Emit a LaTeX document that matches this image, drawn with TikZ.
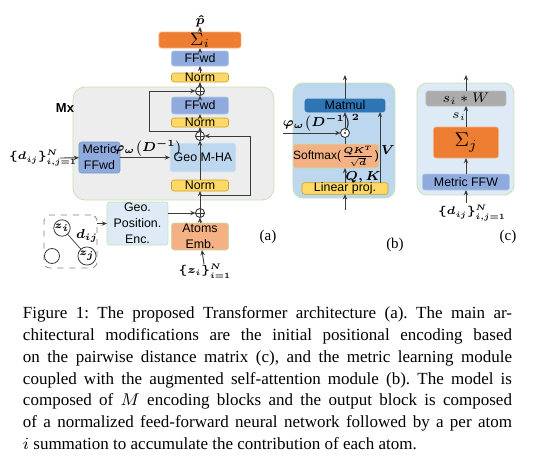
\RequirePackage{fix-cm}
\documentclass[tikz,border=0pt]{standalone}
\usepackage{amssymb}
\usepackage{amsmath}
\usepackage{fontspec}
\setmainfont{Liberation Serif}
\setsansfont{Liberation Sans}
\usepackage{tikz}
\usepackage{xcolor}
\usetikzlibrary{arrows.meta,positioning}
\DeclareMathSizes{5.5}{5.5}{4}{3}
\DeclareMathSizes{6}{6}{4.3}{3.2}
\DeclareMathSizes{6.5}{6.5}{4.7}{3.5}

\definecolor{wirec}{HTML}{3A3A3A}
\definecolor{orng}{HTML}{ED7D31}
\definecolor{orngL}{HTML}{F4B183}
\definecolor{blueM}{HTML}{8FAADC}
\definecolor{blueB}{HTML}{B4C7E7}
\definecolor{blueD}{HTML}{2E75B6}
\definecolor{yel}{HTML}{FFD966}
\definecolor{yelB}{HTML}{C9A227}
\definecolor{lblue}{HTML}{BDD7EE}
\definecolor{vlblue}{HTML}{DEEBF7}
\definecolor{mxg}{HTML}{EDEDED}
\definecolor{grnB}{HTML}{C5E0B4}
\definecolor{gryW}{HTML}{ABABAB}

\begin{document}
\frenchspacing
\begin{tikzpicture}
  [x=0.5pt,y=-0.5pt,
   every node/.style={inner sep=0pt,outer sep=0pt},
   >={Stealth[length=2.6pt,width=2.2pt]},
   wire/.style={draw=wirec,line width=0.45pt},
   box/.style 2 args={draw,line width=0.3pt,rounded corners=1.2pt,align=center,
     minimum width=#1*0.5pt,minimum height=#2*0.5pt,
     font=\sffamily\fontsize{6.2}{8}\selectfont},
   cblue/.style={fill=blueM,draw=blueB},
   cyel/.style={fill=yel,draw=yelB},
   corng/.style={fill=orng,draw=orngL},
   corngL/.style={fill=orngL,draw=grnB},
   mlbl/.style={font=\fontsize{6.5}{7}\selectfont},
   slbl/.style={font=\fontsize{5.5}{6}\selectfont},
   tag/.style={font=\rmfamily\fontsize{7.5}{8}\selectfont},
   plus/.style={circle,draw=wirec,line width=0.45pt,fill=white,minimum size=4.5pt,
     path picture={\draw[wirec,line width=0.4pt]
       (path picture bounding box.north) -- (path picture bounding box.south)
       (path picture bounding box.west) -- (path picture bounding box.east);}},
   odot/.style={circle,draw=wirec,line width=0.45pt,fill=white,minimum size=4.5pt,
     path picture={\fill[wirec] (path picture bounding box.center) circle (0.55pt);}},
   atom/.style={circle,draw=wirec,line width=0.4pt,minimum size=6pt,
     font=\fontsize{5}{6}\selectfont}]
  \useasboundingbox (0,0) rectangle (543,461);

  % (a) encoder
  \draw[draw=grnB,fill=mxg,line width=0.4pt,rounded corners=6pt] (73,87) rectangle (274,200);
  \node[font=\sffamily\bfseries\fontsize{6.5}{7}\selectfont] (mx) at (65,108) {Mx};

  \node[mlbl] (phat) at (200,21) {$\boldsymbol{\hat{p}}$};
  \node[box={82}{16},corng,font=\fontsize{9}{9}\selectfont] (sumI) at (200,40) {$\Sigma_i$};
  \node[box={57}{15},cblue] (ffwdT) at (200,58.5) {FFwd};
  \node[box={57}{9},cyel] (normT) at (200,77.5) {Norm};
  \node[plus] (pT) at (200,91) {};
  \node[box={57}{17},cblue] (ffwdM) at (200,105.5) {FFwd};
  \node[box={57}{9},cyel] (normM) at (200,122.5) {Norm};
  \node[plus] (pM) at (200,136) {};
  \node[box={66}{29},fill=lblue,draw=vlblue] (geoMHA) at (203,157.5) {Geo M-HA};
  \node[box={57}{11},cyel] (normB) at (200,185.5) {Norm};
  \coordinate (resB) at (200,195);
  \node[plus] (pB) at (200,213) {};
  \node[box={57}{27},corngL] (atoms) at (200,236.5) {Atoms\\Emb.};
  \node[slbl] (zIn) at (205,271) {$\boldsymbol{\{z_i\}_{i=1}^{N}}$};
  \node[tag] (tagA) at (268,237) {(a)};

  \node[box={41}{31},fill=blueM,draw=blueD!70] (metric) at (99.5,157.5) {Metric\\FFwd};
  \node[slbl,anchor=east] (dA) at (77,158) {$\boldsymbol{\{d_{ij}\}_{i,j=1}^{N}}$};
  \coordinate (dAend) at (60,158);
  \node[mlbl] (phiA) at (148,148) {$\boldsymbol{\varphi_\omega\big(D^{-1}\big)}$};

  \node[box={61}{43},fill=vlblue,draw=grnB] (geoPos) at (137.5,223.5) {Geo.\\Position.\\Enc.};
  \node[draw=gray,dashed,line width=0.35pt,rounded corners=3pt,
    minimum width=26.5pt,minimum height=26.5pt] (pairs) at (70.5,241.5) {};
  \node[atom] (zi) at (62,228) {$\boldsymbol{z_i}$};
  \node[atom] (zj) at (87,256) {$\boldsymbol{z_j}$};
  \node[atom,minimum size=7.5pt] (zk) at (52,256) {};
  \node[mlbl] (dij) at (87,236) {$\boldsymbol{d_{ij}}$};
  \draw[wire,line width=0.35pt] (zi) -- (zj);

  \foreach \from/\to in {zIn/atoms,atoms/pB,pB/normB,normB/pM,pM/normM,normM/ffwdM,
    ffwdM/pT,pT/normT,normT/ffwdT,ffwdT/sumI,sumI/phat}
    \draw[wire,->] (\from) -- (\to);
  \draw[wire,->] (pM.north) -| ([xshift=-23pt]pT.west) -- (pT.west);
  \draw[wire,->] (resB) -| ([xshift=23pt]pM.east) -- (pM.east);
  \draw[wire,->] (dAend) -- (metric);
  \draw[wire,->] (metric) -- (geoMHA);
  \draw[wire,->] (pairs.east |- geoPos.west) -- (geoPos.west);
  \draw[wire,->] (geoPos.east |- pB) -- (pB);

  % (b) attention
  \draw[draw=grnB,fill=lblue,line width=0.4pt,rounded corners=5pt] (293,83) rectangle (395,198);
  \coordinate (bBot) at (345,210);
  \coordinate (bTop) at (345,75);
  \node[box={80}{13},fill=blueD,draw=blueD] (mat) at (345,105.5) {Matmul};
  \node[odot] (ob) at (345,133) {};
  \node[box={82}{24},corngL,font=\sffamily\fontsize{6}{7}\selectfont] (soft) at (336,156)
    {Softmax($\frac{\boldsymbol{QK^T}}{\sqrt{\boldsymbol{d}}}$)};
  \node[box={86}{9},cyel] (lin) at (345,188.5) {Linear proj.};
  \coordinate (phiS) at (283,133);
  \node[mlbl,anchor=south west] (phiB) at (283,131.5) {$\boldsymbol{\varphi_\omega\big(D^{-1}\big)^2}$};
  \node[mlbl] (qk) at (363,177) {$\boldsymbol{Q,K}$};
  \node[mlbl] (vv) at (388,150) {$\boldsymbol{V}$};
  \node[tag] (tagB) at (395,245) {(b)};

  \draw[wire,->] (bBot) -- (lin);
  \draw[wire,->] (lin) -- (lin.north |- soft.south);
  \draw[wire] (ob |- soft.north) -- (ob);
  \draw[wire,->] (ob) -- (mat);
  \draw[wire,->] (mat) -- (bTop);
  \draw[wire,->] (phiS) -- (ob);
  \draw[wire,->] ([xshift=17.5pt]lin.north) -- ([xshift=17.5pt]lin.north |- mat.south);

  % (c) positional encoding
  \draw[draw=grnB,fill=vlblue,line width=0.4pt,rounded corners=5pt] (417,83) rectangle (514,195);
  \coordinate (cBot) at (466,203);
  \coordinate (cTop) at (466,75);
  \node[box={80}{15},fill=gryW,draw=gryW!80,font=\fontsize{7}{8}\selectfont] (siW) at (466,98.5) {$s_i * W$};
  \node[box={65}{31},corng,font=\fontsize{10}{10}\selectfont] (sumJ) at (466,142.5) {$\Sigma_j$};
  \node[box={87}{16},cblue] (mffw) at (466,182) {Metric FFW};
  \node[mlbl] (sI) at (459,117) {$s_i$};
  \node[slbl] (dC) at (472,213) {$\boldsymbol{\{d_{ij}\}_{i,j=1}^{N}}$};
  \node[tag] (tagC) at (508,237) {(c)};

  \foreach \from/\to in {cBot/mffw,mffw/sumJ,sumJ/siW,siW/cTop}
    \draw[wire,->] (\from) -- (\to);

  % caption
  \node[anchor=north west,text width=244.5pt,align=justify,
    font=\rmfamily\fontsize{8.5}{10.85}\selectfont] (cap) at (23,307)
    {Figure 1: The proposed Transformer architecture (a). The main ar-\linebreak
     chitectural modifications are the initial positional encoding based\linebreak
     on the pairwise distance matrix (c), and the metric learning module\linebreak
     coupled with the augmented self-attention module (b). The model is\linebreak
     composed of $M$ encoding blocks and the output block is composed\linebreak
     of a normalized feed-forward neural network followed by a per atom\linebreak
     $i$ summation to accumulate the contribution of each atom.};
\end{tikzpicture}
\end{document}
